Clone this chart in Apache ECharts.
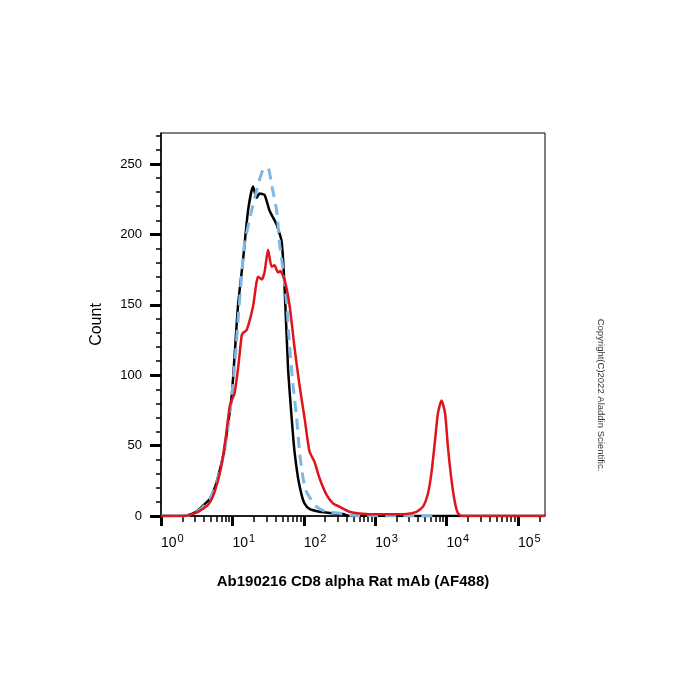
<!DOCTYPE html>
<html>
<head>
<meta charset="utf-8">
<script src="https://cdn.jsdelivr.net/npm/echarts@6/dist/echarts.min.js"></script>
<style>
  html, body { margin: 0; padding: 0; background: #fff; }
  #chart { width: 700px; height: 700px; }
</style>
</head>
<body>
<div id="chart"></div>
<script>
// x values are in decades (log10 of fluorescence), y values are counts
var decadeTicks = [0, 1, 2, 3, 4, 5];
var minorTicks = [];
decadeTicks.forEach(function (d) {
    for (var k = 2; k <= 9; k++) {
        var v = d + Math.log10(k);
        if (v < 5.38) minorTicks.push(v);
    }
});
var countTicks = [0, 50, 100, 150, 200, 250];
var countMinor = [10, 20, 30, 40, 60, 70, 80, 90, 110, 120, 130, 140, 160, 170, 180, 190, 210, 220, 230, 240, 260, 270];

var blackX = [0, 0.30, 0.40, 0.49, 0.58, 0.68, 0.76, 0.82, 0.88, 0.92, 0.99, 1.03, 1.08, 1.15, 1.22, 1.29, 1.34, 1.38, 1.45, 1.52, 1.59, 1.62, 1.69, 1.73, 1.78, 1.83, 1.87, 1.92, 1.97, 2.01, 2.08, 2.22, 2.40, 2.55, 2.64, 5.38];
var blackY = [0, 0, 1, 3, 7, 12, 21, 32, 45, 58, 85, 113, 150, 182, 217, 234, 226, 229, 228, 217, 210, 207, 195, 164, 105, 70, 46, 27, 15, 9, 5, 3, 2, 1.5, 0, 0];

var blueX = [0, 0.33, 0.47, 0.58, 0.68, 0.76, 0.82, 0.88, 0.93, 0.99, 1.04, 1.09, 1.17, 1.27, 1.36, 1.43, 1.50, 1.55, 1.62, 1.66, 1.71, 1.76, 1.80, 1.85, 1.90, 1.94, 1.99, 2.04, 2.18, 2.32, 2.50, 2.64, 3.90];
var blueY = [0, 0, 2, 6, 12, 20, 31, 44, 60, 84, 112, 146, 193, 217, 235, 246, 247, 235, 217, 194, 175, 151, 122, 93, 70, 46, 27, 17, 6.6, 3, 2, 0.5, 0];

var redX = [0, 0.33, 0.52, 0.66, 0.75, 0.84, 0.91, 0.96, 0.99, 1.03, 1.08, 1.13, 1.15, 1.20, 1.29, 1.36, 1.41, 1.45, 1.50, 1.55, 1.59, 1.64, 1.67, 1.73, 1.80, 1.87, 1.94, 2.01, 2.08, 2.15, 2.22, 2.32, 2.41, 2.50, 2.64, 2.78, 3.06, 3.44, 3.58, 3.67, 3.74, 3.79, 3.84, 3.88, 3.93, 3.98, 4.02, 4.07, 4.12, 4.16, 4.21, 5.38];
var redY = [0, 0, 3, 8, 17, 34, 57, 77, 82, 87, 105, 128, 130, 132, 149, 170, 168, 173, 189, 177, 178, 173, 174, 168, 150, 120, 93, 70, 46, 38.5, 27, 15, 9, 6.6, 3, 1.8, 1.2, 1.5, 3, 6.6, 16, 31, 54, 73, 82, 73, 49, 25.6, 9, 2, 0, 0];

function pairs(xs, ys) {
    return xs.map(function (x, i) { return [x, ys[i]]; });
}

var font = 'Liberation Sans, Arial, sans-serif';
var chart = echarts.init(document.getElementById('chart'));

var option = {
    animation: false,
    grid: {
        left: 161, right: 155, top: 133, bottom: 184,
        show: true, borderColor: '#000', borderWidth: 1
    },
    xAxis: [
        {
            type: 'value', position: 'bottom', min: 0, max: 5.38,
            name: 'Ab190216 CD8 alpha Rat mAb (AF488)',
            nameLocation: 'middle', nameGap: 58,
            nameTextStyle: { fontFamily: font, fontSize: 15, fontWeight: 'bold', color: '#000' },
            axisLine: { lineStyle: { color: '#000', width: 1.5 } },
            axisTick: { customValues: decadeTicks, length: 10, lineStyle: { color: '#000', width: 3 } },
            axisLabel: {
                customValues: decadeTicks, align: 'left', margin: 17,
                formatter: function (v) { return '{b|10}{s|' + Math.round(v) + '}'; },
                rich: {
                    b: { fontFamily: font, fontSize: 14, color: '#000' },
                    s: { fontFamily: font, fontSize: 11, color: '#000', padding: [0, 0, 9, 1] }
                }
            },
            splitLine: { show: false }
        },
        {
            type: 'value', position: 'bottom', offset: 0, min: 0, max: 5.38,
            axisLine: { show: false },
            axisTick: { customValues: minorTicks, length: 6, lineStyle: { color: '#000', width: 1.5 } },
            axisLabel: { show: false },
            splitLine: { show: false }
        }
    ],
    yAxis: [
        {
            type: 'value', position: 'left', min: 0, max: 272,
            name: 'Count', nameLocation: 'middle', nameGap: 56,
            nameTextStyle: { fontFamily: font, fontSize: 16, color: '#000' },
            axisLine: { show: true, lineStyle: { color: '#000', width: 1.5 } },
            axisTick: { customValues: countTicks, length: 11, lineStyle: { color: '#000', width: 3 } },
            axisLabel: { customValues: countTicks, margin: 19, fontFamily: font, fontSize: 13, color: '#000' },
            splitLine: { show: false }
        },
        {
            type: 'value', position: 'left', offset: 0, min: 0, max: 272,
            axisLine: { show: false },
            axisTick: { customValues: countMinor, length: 5, lineStyle: { color: '#000', width: 1.5 } },
            axisLabel: { show: false },
            splitLine: { show: false }
        }
    ],
    graphic: [{
        type: 'text', x: 601, y: 395, rotation: -Math.PI / 2,
        style: {
            text: 'Copyright(C)2022 Aladdin Scientific.',
            font: '9.5px ' + font, fill: '#333',
            align: 'center', verticalAlign: 'middle'
        }
    }],
    series: [
        {
            name: 'black', type: 'line', showSymbol: false, smooth: 0.2,
            data: pairs(blackX, blackY),
            lineStyle: { color: '#000', width: 2.5 }
        },
        {
            name: 'blue', type: 'line', showSymbol: false, smooth: 0.2,
            data: pairs(blueX, blueY),
            lineStyle: { color: '#7db7e5', width: 3, type: [11, 7] }
        },
        {
            name: 'red', type: 'line', showSymbol: false, smooth: 0.2,
            data: pairs(redX, redY),
            lineStyle: { color: '#e0141b', width: 2.5 }
        }
    ]
};
chart.setOption(option);
</script>
</body>
</html>
